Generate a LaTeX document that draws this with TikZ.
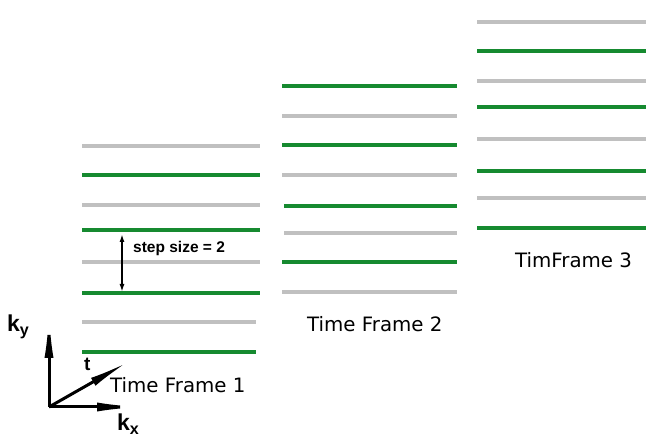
\documentclass[tikz,border=0pt]{standalone}
\usepackage{fontspec}
\setmainfont{DejaVu Sans}
\newfontfamily\labelfont{Liberation Sans}
\usetikzlibrary{arrows.meta}
\definecolor{linegreen}{RGB}{22,138,48}
\definecolor{linegray}{RGB}{192,192,192}

\begin{document}
\begin{tikzpicture}[x=1pt,y=-1pt,
  gline/.style={linegreen, line width=3.2pt},
  sline/.style={linegray, line width=3.2pt},
  frametext/.style={font=\fontsize{19.8}{22}\selectfont, inner sep=0pt, anchor=base west},
  axis/.style={line width=3pt, -{Latex[length=46pt,width=9pt]}},
  axlabel/.style={font=\labelfont\bfseries\fontsize{23}{26}\selectfont, inner sep=0pt, anchor=base west},
]
\useasboundingbox (0,0) rectangle (646,438);

% frame 1
\foreach \y/\s in {146/sline,175/gline,205/sline,230/gline,262/sline,293/gline}
  \draw[\s] (82,\y) -- (260,\y);
\draw[sline] (82,322) -- (256,322);
\draw[gline] (82,352) -- (256,352);

% frame 2
\foreach \y/\s/\xa in {86/gline/282,116/sline/282,145/gline/282,175/sline/282,206/gline/284,233/sline/284,262/gline/282,292/sline/282}
  \draw[\s] (\xa,\y) -- (457,\y);

% frame 3
\foreach \y/\s in {22/sline,51/gline,81/sline,107/gline,139/sline,171/gline,198/sline,228/gline}
  \draw[\s] (477,\y) -- (646,\y);

% frame captions
\node[frametext] (tf1) at (110,393) {Time Frame 1};
\node[frametext] (tf2) at (307,332) {Time Frame 2};
\node[frametext] (tf3) at (515,268) {TimFrame 3};

% step size marker
\coordinate (stA) at (122,234);
\coordinate (stB) at (122,292);
\draw[line width=1.8pt, {Latex[length=8pt,width=5pt]}-{Latex[length=8pt,width=5pt]}] (stA) -- (stB);
\node[font=\labelfont\bfseries\fontsize{15.5}{17}\selectfont, inner sep=0pt, anchor=west] (step) at (133,248) {step size = 2};

% k-space axes
\coordinate (o) at (49,407);
\coordinate (ky) at (49,312);
\coordinate (kx) at (143,407);
\coordinate (t) at (128,362);
\draw[axis] (o) -- (ky);
\draw[axis] (o) -- (kx);
\draw[axis, -{Latex[length=40pt,width=9pt]}] (o) -- (t);
\node[axlabel] (kylab) at (7,332) {k\textsubscript{y}};
\node[axlabel] (kxlab) at (117,431) {k\textsubscript{x}};
\node[axlabel, font=\labelfont\bfseries\fontsize{19}{22}\selectfont] (tlab) at (84,371) {t};
\end{tikzpicture}
\end{document}
